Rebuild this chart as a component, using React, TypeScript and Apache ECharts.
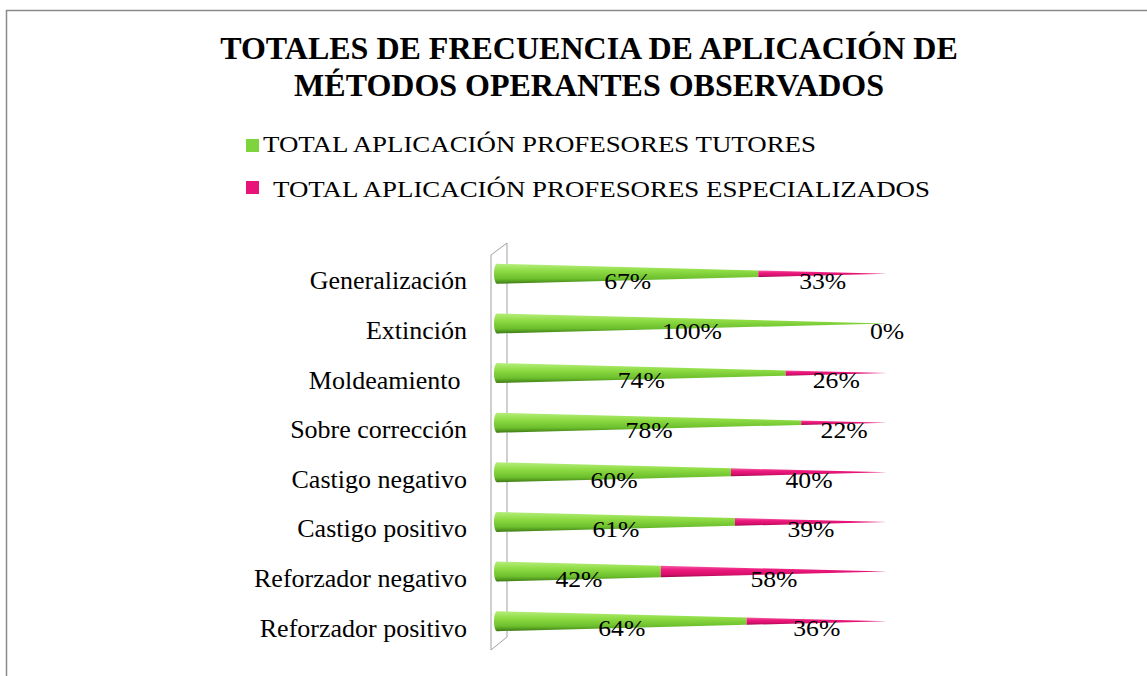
import React, { useEffect, useRef } from "react";
import * as echarts from "echarts";

const categories = [
  "Reforzador positivo",
  "Reforzador negativo",
  "Castigo positivo",
  "Castigo negativo",
  "Sobre corrección",
  "Moldeamiento ",
  "Extinción",
  "Generalización",
];
const tutores = [64, 42, 61, 60, 78, 74, 100, 67];
const especializados = [36, 58, 39, 40, 22, 26, 0, 33];
const seriesNames = [
  "TOTAL APLICACIÓN PROFESORES TUTORES",
  "TOTAL APLICACIÓN PROFESORES ESPECIALIZADOS",
];
const titleText = "TOTALES DE FRECUENCIA DE APLICACIÓN DE\nMÉTODOS OPERANTES OBSERVADOS";

const FONT = "Liberation Serif";
const R0 = 10;
const CONE_SHIFT = -7;

const greenGrad = () =>
  new echarts.graphic.LinearGradient(0, 0, 0, 1, [
    { offset: 0, color: "#b5ee7c" },
    { offset: 0.35, color: "#8fdc45" },
    { offset: 0.75, color: "#6cbf2c" },
    { offset: 1, color: "#3f7a17" },
  ]);
const pinkGrad = () =>
  new echarts.graphic.LinearGradient(0, 0, 0, 1, [
    { offset: 0, color: "#f55ea4" },
    { offset: 0.35, color: "#ec1a7e" },
    { offset: 0.75, color: "#d80f6c" },
    { offset: 1, color: "#93084a" },
  ]);

export default function App() {
  const ref = useRef<HTMLDivElement>(null);
  useEffect(() => {
    document.body.style.margin = "0";
    const chart = echarts.init(ref.current!, null, { renderer: "svg" });

    const segData: any[] = [];
    categories.forEach((_, i) => {
      segData.push([i, 0, tutores[i], 0]);
      segData.push([i, tutores[i], tutores[i] + especializados[i], 1]);
    });

    const renderCone = (params: any, api: any) => {
      const cat = api.value(0);
      const s = api.value(1);
      const e = api.value(2);
      const idx = api.value(3);
      const p0 = api.coord([0, cat]);
      const pEnd = api.coord([100, cat]);
      const ps = api.coord([s, cat]);
      const pe = api.coord([e, cat]);
      const yc = p0[1] + CONE_SHIFT;
      const L = pEnd[0] - p0[0];
      const rs = R0 * (1 - (ps[0] - p0[0]) / L);
      const re = R0 * (1 - (pe[0] - p0[0]) / L);
      const children: any[] = [];
      if (e > s) {
        children.push({
          type: "polygon",
          shape: {
            points: [
              [ps[0], yc - rs],
              [pe[0], yc - re],
              [pe[0], yc + re],
              [ps[0], yc + rs],
            ],
          },
          style: { fill: idx === 0 ? greenGrad() : pinkGrad() },
        });
        if (s === 0) {
          children.push({
            type: "ellipse",
            shape: { cx: ps[0], cy: yc, rx: 3, ry: rs },
            style: { fill: idx === 0 ? greenGrad() : pinkGrad() },
          });
        }
      }
      return { type: "group", children };
    };

    const renderLabel = (params: any, api: any) => {
      const cat = api.value(0);
      const s = api.value(1);
      const e = api.value(2);
      const ps = api.coord([s, cat]);
      const pe = api.coord([e, cat]);
      return {
        type: "text",
        x: (ps[0] + pe[0]) / 2,
        y: ps[1],
        scaleX: 1.07,
        style: {
          text: Math.round(e - s) + "%",
          x: 0,
          y: 0,
          align: "center",
          verticalAlign: "middle",
          fontFamily: FONT,
          fontSize: 24,
          fill: "#000",
        },
      };
    };

    chart.setOption({
      animation: false,
      backgroundColor: "#fff",
      title: {
        text: titleText,
        left: 584,
        textAlign: "center",
        top: 24,
        textStyle: {
          fontFamily: FONT,
          fontSize: 32,
          fontWeight: "bold",
          color: "#000",
          lineHeight: 37,
        },
      },
      grid: { left: 497, top: 256, width: 390, height: 397 },
      xAxis: {
        type: "value",
        min: 0,
        max: 100,
        show: false,
      },
      yAxis: {
        type: "category",
        data: categories,
        axisLine: { show: false },
        axisTick: { show: false },
        axisLabel: {
          margin: 30,
          fontFamily: FONT,
          fontSize: 26,
          color: "#000",
        },
      },
      graphic: [
        {
          type: "rect",
          shape: { x: 6.5, y: 10.5, width: 1200, height: 800 },
          style: { fill: "none", stroke: "#8a8a8a", lineWidth: 1.5 },
          silent: true,
        },
        {
          type: "polyline",
          shape: { points: [[491, 650], [491, 255], [507, 243], [507, 637], [491, 650]] },
          style: { fill: "none", stroke: "#a0a0a0", lineWidth: 1 },
          z: -1,
        },
        {
          type: "rect",
          shape: { x: 246, y: 139, width: 13, height: 13 },
          style: { fill: "#7ed43c" },
        },
        {
          type: "text",
          x: 263,
          y: 144,
          scaleX: 1.12,
          style: {
            text: seriesNames[0],
            x: 0,
            y: 0,
            verticalAlign: "middle",
            fontFamily: FONT,
            fontSize: 24,
            fill: "#000",
          },
        },
        {
          type: "rect",
          shape: { x: 246, y: 181, width: 13, height: 13 },
          style: { fill: "#e8147a" },
        },
        {
          type: "text",
          x: 273,
          y: 189,
          scaleX: 1.12,
          style: {
            text: seriesNames[1],
            x: 0,
            y: 0,
            verticalAlign: "middle",
            fontFamily: FONT,
            fontSize: 24,
            fill: "#000",
          },
        },
      ],
      series: [
        {
          type: "custom",
          name: "cones",
          renderItem: renderCone,
          data: segData,
          encode: { x: [1, 2], y: 0 },
          z: 2,
        },
        {
          type: "custom",
          name: "labels",
          renderItem: renderLabel,
          data: segData,
          encode: { x: [1, 2], y: 0 },
          z: 3,
        },
      ],
    });
    return () => chart.dispose();
  }, []);
  return <div ref={ref} style={{ width: 1147, height: 676 }} />;
}
